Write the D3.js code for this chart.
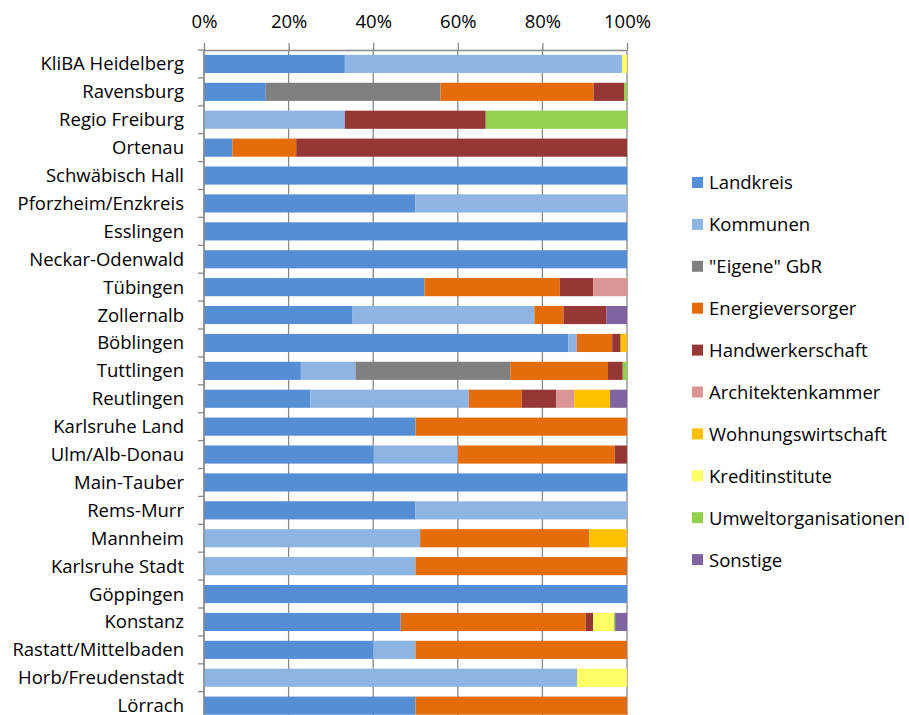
<!DOCTYPE html>
<html>
<head>
<meta charset="utf-8">
<script src="https://cdn.jsdelivr.net/npm/d3@7"></script>
<style>
  body { margin: 0; background: #fff; }
  text { font-family: "Open Sans", "Noto Sans", sans-serif; fill: #000; }
</style>
</head>
<body>
<svg id="svg1" width="909" height="715"></svg>
<script>
// categories, top to bottom
var categories = ['KliBA Heidelberg', 'Ravensburg', 'Regio Freiburg', 'Ortenau', 'Schwäbisch Hall',
  'Pforzheim/Enzkreis', 'Esslingen', 'Neckar-Odenwald', 'Tübingen', 'Zollernalb', 'Böblingen',
  'Tuttlingen', 'Reutlingen', 'Karlsruhe Land', 'Ulm/Alb-Donau', 'Main-Tauber', 'Rems-Murr',
  'Mannheim', 'Karlsruhe Stadt', 'Göppingen', 'Konstanz', 'Rastatt/Mittelbaden',
  'Horb/Freudenstadt', 'Lörrach'];

var seriesNames = ['Landkreis', 'Kommunen', '"Eigene" GbR', 'Energieversorger', 'Handwerkerschaft',
  'Architektenkammer', 'Wohnungswirtschaft', 'Kreditinstitute', 'Umweltorganisationen', 'Sonstige'];

var seriesColors = ['#558ed5', '#8eb4e3', '#808080', '#e46c0a', '#953735',
  '#d99694', '#ffc000', '#ffff66', '#92d050', '#8064a2'];

// shares in percent, one value per category
var landkreis   = [33.3, 14.6, 0, 6.7, 100, 50, 100, 100, 52.1, 35.0, 86.1, 22.9, 25.1, 50, 40.1, 100, 50, 0, 0, 100, 46.5, 40, 0, 50];
var kommunen    = [65.5, 0, 33.3, 0, 0, 50, 0, 0, 0, 43.1, 2.0, 12.9, 37.5, 0, 19.9, 0, 50, 51.1, 50, 0, 0, 10, 88.2, 0];
var eigene      = [0, 41.3, 0, 0, 0, 0, 0, 0, 0, 0, 0, 36.6, 0, 0, 0, 0, 0, 0, 0, 0, 0, 0, 0, 0];
var energie     = [0, 36.2, 0, 15.1, 0, 0, 0, 0, 32.0, 6.9, 8.4, 23.1, 12.5, 50, 37.1, 0, 0, 40.0, 50, 0, 43.7, 50, 0, 50];
var handwerk    = [0, 7.2, 33.3, 78.2, 0, 0, 0, 0, 7.9, 10.1, 2.0, 3.5, 8.2, 0, 2.9, 0, 0, 0, 0, 0, 1.8, 0, 0, 0];
var architekten = [0, 0, 0, 0, 0, 0, 0, 0, 8.0, 0, 0, 0, 4.2, 0, 0, 0, 0, 0, 0, 0, 0, 0, 0, 0];
var wohnung     = [0, 0, 0, 0, 0, 0, 0, 0, 0, 0, 1.5, 0, 8.5, 0, 0, 0, 0, 8.9, 0, 0, 0, 0, 0, 0];
var kredit      = [1.2, 0, 0, 0, 0, 0, 0, 0, 0, 0, 0, 0, 0, 0, 0, 0, 0, 0, 0, 0, 4.9, 0, 11.8, 0];
var umwelt      = [0, 0.7, 33.4, 0, 0, 0, 0, 0, 0, 0, 0, 1.0, 0, 0, 0, 0, 0, 0, 0, 0, 0.3, 0, 0, 0];
var sonstige    = [0, 0, 0, 0, 0, 0, 0, 0, 0, 4.9, 0, 0, 4.0, 0, 0, 0, 0, 0, 0, 0, 2.8, 0, 0, 0];

var xTicks = [0, 0.2, 0.4, 0.6, 0.8, 1];

var seriesValues = [landkreis, kommunen, eigene, energie, handwerk, architekten, wohnung, kredit, umwelt, sonstige];

var svg = d3.select('#svg1');
var plot = {l: 204, r: 627, t: 50, b: 719.6};
var fontSize = '18.5px';

// rows for d3.stack
var rows = categories.map(function(c, i) {
  var row = {cat: c};
  seriesNames.forEach(function(s, j) { row[s] = seriesValues[j][i]; });
  return row;
});

var stacked = d3.stack()
  .keys(seriesNames)
  .offset(d3.stackOffsetExpand)(rows);

var xScale = d3.scaleLinear().domain([0, 1]).range([plot.l, plot.r]);
var yScale = d3.scaleBand().domain(categories).range([plot.t, plot.b])
  .paddingInner(0.35).paddingOuter(0.175);

// gridlines
svg.append('g')
  .attr('class', 'grid')
  .selectAll('line')
  .data(xTicks)
  .enter()
  .append('line')
    .attr('x1', function(d) { return xScale(d); })
    .attr('x2', function(d) { return xScale(d); })
    .attr('y1', plot.t)
    .attr('y2', plot.b)
    .style('stroke', '#898989')
    .style('stroke-width', 1.3);

// bars
svg.append('g')
  .attr('class', 'bars')
  .selectAll('g')
  .data(stacked)
  .enter()
  .append('g')
    .style('fill', function(d, i) { return seriesColors[i]; })
  .selectAll('rect')
  .data(function(d) { return d; })
  .enter()
  .append('rect')
    .attr('x', function(d) { return xScale(d[0]); })
    .attr('y', function(d) { return yScale(d.data.cat); })
    .attr('width', function(d) { return xScale(d[1]) - xScale(d[0]); })
    .attr('height', yScale.bandwidth());

// top axis
var xAxis = svg.append('g')
  .attr('class', 'x_axis')
  .attr('transform', 'translate(0,' + plot.t + ')')
  .call(d3.axisTop(xScale).tickValues(xTicks).tickFormat(d3.format('.0%')).tickSize(7).tickPadding(15).tickSizeOuter(0));
xAxis.select('.domain').style('stroke', '#898989').style('stroke-width', 1.3);
xAxis.selectAll('.tick line').style('stroke', '#898989').style('stroke-width', 1.3);
xAxis.selectAll('.tick text').style('font-size', fontSize).style('fill', '#000');

// left axis with ticks between categories
var yAxis = svg.append('g').attr('class', 'y_axis');
yAxis.append('line')
  .attr('x1', plot.l).attr('x2', plot.l)
  .attr('y1', plot.t).attr('y2', plot.b)
  .style('stroke', '#898989').style('stroke-width', 1.3);
yAxis.selectAll('.ytick')
  .data(categories)
  .enter()
  .append('line')
    .attr('class', 'ytick')
    .attr('x1', plot.l - 6).attr('x2', plot.l)
    .attr('y1', function(d) { return yScale(d) - yScale.step() * yScale.paddingInner() / 2; })
    .attr('y2', function(d) { return yScale(d) - yScale.step() * yScale.paddingInner() / 2; })
    .style('stroke', '#898989').style('stroke-width', 1.3);
yAxis.selectAll('.ylabel')
  .data(categories)
  .enter()
  .append('text')
    .attr('class', 'ylabel')
    .attr('x', 184)
    .attr('y', function(d) { return yScale(d) + yScale.bandwidth() / 2; })
    .attr('dy', '0.35em')
    .attr('text-anchor', 'end')
    .style('font-size', fontSize)
    .text(function(d) { return d; });

// legend
var legend = svg.append('g')
  .attr('class', 'legend')
  .attr('transform', 'translate(692,183)');
var item = legend.selectAll('g')
  .data(seriesNames)
  .enter()
  .append('g')
    .attr('transform', function(d, i) { return 'translate(0,' + (i * 41.9) + ')'; });
item.append('rect')
  .attr('x', 0).attr('y', -6)
  .attr('width', 11).attr('height', 11)
  .style('fill', function(d, i) { return seriesColors[i]; });
item.append('text')
  .attr('x', 17)
  .attr('dy', '0.35em')
  .style('font-size', fontSize)
  .text(function(d) { return d; });
</script>
</body>
</html>
